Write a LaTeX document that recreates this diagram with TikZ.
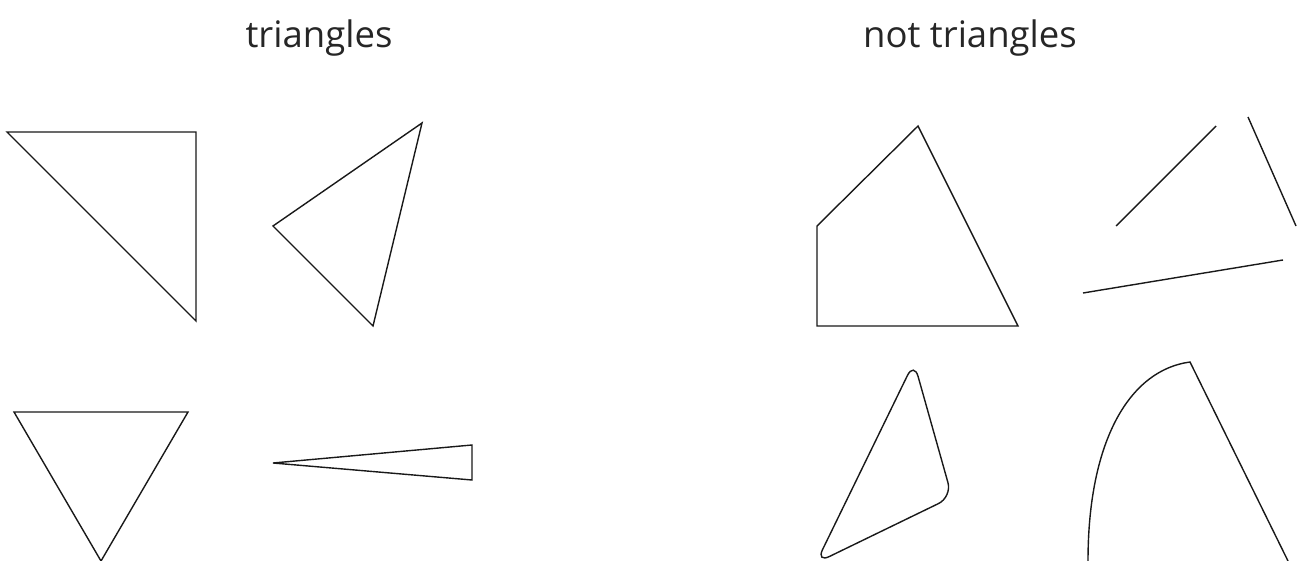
\documentclass[tikz,border=0pt]{standalone}
\usepackage{fontspec}
\setmainfont{Open Sans}
\begin{document}
\begin{tikzpicture}[x=1pt,y=-1pt,
  shape line/.style={draw=black!90, line width=1.4pt, line join=miter},
  title/.style={font=\fontsize{36.5}{40}\selectfont, text=black!85, inner sep=0pt, anchor=base}]
\useasboundingbox (0,0) rectangle (1306,561);
% titles
\node[title] (t1) at (319,48) {triangles};
\node[title] (t2) at (970,48) {not triangles};
% triangles
\draw[shape line] (7,132) -- (196,132) -- (196,321) -- cycle;
\draw[shape line] (422,123) -- (273,226) -- (373,326) -- cycle;
\draw[shape line] (14,412) -- (188,412) -- (101,561) -- cycle;
\draw[shape line] (273,463) -- (472,445) -- (472,480) -- cycle;
% not triangles
\draw[shape line] (817,226) -- (918,126) -- (1018,326) -- (817,326) -- cycle;
\draw[shape line] (1116,226) -- (1216,126);
\draw[shape line] (1248,117) -- (1296,226);
\draw[shape line] (1083,293) -- (1283,260);
\draw[shape line, rounded corners=15pt] (914,362) -- (952,497) -- (816,563) -- cycle;
\draw[shape line] (1088,561) .. controls (1088,440) and (1130,370) .. (1190,362) -- (1288,561);
\end{tikzpicture}
\end{document}
